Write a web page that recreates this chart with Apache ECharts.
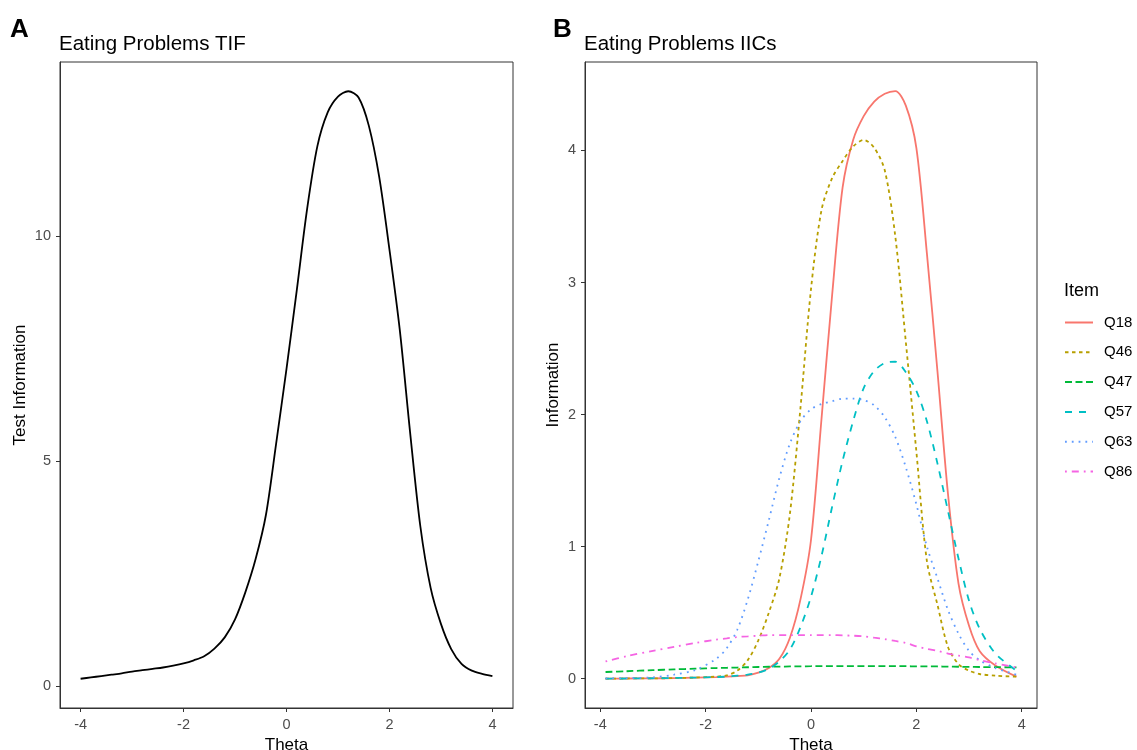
<!DOCTYPE html>
<html>
<head>
<meta charset="utf-8">
<script src="https://cdn.jsdelivr.net/npm/echarts@6/dist/echarts.min.js"></script>
<style>
  html, body { margin: 0; padding: 0; background: #fff; }
  #main { width: 1137px; height: 750px; }
</style>
</head>
<body>
<div id="main"></div>
<script>
var myChart = echarts.init(document.getElementById('main'));

// A: test information function
var tifTheta = [-4.0,-3.8,-3.6,-3.4,-3.2,-3.0,-2.8,-2.6,-2.4,-2.2,-2.0,-1.8,-1.6,-1.4,-1.2,-1.0,-0.8,-0.6,-0.4,-0.2,
                0.0,0.2,0.4,0.6,0.8,1.0,1.2,1.4,1.6,1.8,2.0,2.2,2.4,2.6,2.8,3.0,3.2,3.4,3.6,3.8,4.0];
var tifValues = [0.16,0.19,0.22,0.25,0.28,0.32,0.35,0.38,0.41,0.45,0.50,0.57,0.66,0.83,1.08,1.48,2.08,2.82,3.80,5.40,
                 7.05,8.80,10.60,12.00,12.75,13.10,13.22,13.08,12.45,11.32,9.70,7.92,5.65,3.55,2.18,1.38,0.82,0.49,0.34,0.27,0.22];

// B: item information curves
var itemTheta = [-3.9,-3.5,-3.0,-2.6,-2.2,-1.8,-1.6,-1.4,-1.2,-1.0,-0.8,-0.6,-0.4,-0.2,0.0,0.2,0.4,0.6,0.8,
                 1.0,1.2,1.4,1.6,1.8,2.0,2.2,2.4,2.6,2.8,3.0,3.2,3.5,3.9];
var items = ['Q18','Q46','Q47','Q57','Q63','Q86'];
var q18 = [0.0,0.001,0.002,0.004,0.007,0.011,0.015,0.02,0.025,0.045,0.08,0.15,0.31,0.6,1.05,1.97,2.9,3.72,4.08,
           4.26,4.37,4.43,4.45,4.34,4.02,3.22,2.33,1.4,0.72,0.4,0.21,0.1,0.015];
var q46 = [0.0,0.001,0.002,0.004,0.008,0.015,0.025,0.06,0.14,0.29,0.5,0.76,1.25,2.05,2.95,3.55,3.79,3.92,4.03,
           4.08,4.02,3.85,3.35,2.55,1.72,0.89,0.56,0.24,0.11,0.06,0.035,0.022,0.015];
var q47 = [0.05,0.056,0.064,0.07,0.075,0.08,0.082,0.084,0.086,0.088,0.09,0.091,0.092,0.093,0.094,0.095,0.095,0.095,0.095,
           0.095,0.095,0.095,0.094,0.094,0.093,0.093,0.092,0.091,0.09,0.089,0.088,0.087,0.085];
var q57 = [0.0,0.001,0.003,0.005,0.008,0.012,0.015,0.022,0.03,0.045,0.075,0.13,0.22,0.39,0.62,0.93,1.3,1.65,1.95,
           2.2,2.33,2.39,2.40,2.32,2.18,1.95,1.63,1.27,0.91,0.59,0.38,0.19,0.06];
var q63 = [0.002,0.004,0.01,0.03,0.065,0.15,0.23,0.37,0.6,0.89,1.2,1.52,1.78,1.95,2.04,2.08,2.1,2.12,2.12,
           2.11,2.07,1.98,1.83,1.6,1.32,1.0,0.76,0.52,0.34,0.21,0.14,0.08,0.03];
var q86 = [0.13,0.17,0.21,0.24,0.27,0.295,0.305,0.315,0.32,0.325,0.33,0.33,0.33,0.33,0.33,0.33,0.33,0.328,0.325,
           0.32,0.31,0.3,0.285,0.27,0.245,0.225,0.21,0.19,0.175,0.16,0.14,0.115,0.085];

var thetaTicks = [-4,-2,0,2,4];
var tifTicks = [0,5,10];
var infoTicks = [0,1,2,3,4];

var colors = ['#F8766D','#B79F00','#00BA38','#00BFC4','#619CFF','#F564E3'];
var dashes = ['solid',[3.5,3.5],[7,3.5],[7,7],[1.8,5],[1.8,5,7,5]];
var itemValues = [q18,q46,q47,q57,q63,q86];

var font = "'Liberation Sans', Arial, sans-serif";

function pairs(xs, ys) {
    return xs.map(function (x, i) { return [x, ys[i]]; });
}

function xAxisOf(grid, lo, hi) {
    return {
        gridIndex: grid, type: 'value', min: lo, max: hi,
        axisLine: {show: true, onZero: false, lineStyle: {color: '#333', width: 1}},
        splitLine: {show: false},
        axisTick: {show: true, length: 4, customValues: thetaTicks, lineStyle: {color: '#333'}},
        axisLabel: {customValues: thetaTicks, color: '#4d4d4d', fontSize: 14.5, margin: 9, fontFamily: font},
        name: 'Theta', nameLocation: 'middle', nameGap: 20,
        nameTextStyle: {color: '#000', fontSize: 17, fontFamily: font}
    };
}

function yAxisOf(grid, lo, hi, ticks, title, gap) {
    return {
        gridIndex: grid, type: 'value', min: lo, max: hi,
        axisLine: {show: true, onZero: false, lineStyle: {color: '#333', width: 1}},
        splitLine: {show: false},
        axisTick: {show: true, length: 4, customValues: ticks, lineStyle: {color: '#333'}},
        axisLabel: {customValues: ticks, color: '#4d4d4d', fontSize: 14.5, margin: 9, fontFamily: font},
        name: title, nameLocation: 'middle', nameGap: gap, nameRotate: 90,
        nameTextStyle: {color: '#000', fontSize: 17, fontFamily: font}
    };
}

var series = [{
    name: 'TIF', type: 'line', xAxisIndex: 0, yAxisIndex: 0,
    data: pairs(tifTheta, tifValues), smooth: 0.3, symbol: 'none',
    lineStyle: {color: '#000', width: 1.8}
}];
items.forEach(function (name, i) {
    series.push({
        name: name, type: 'line', xAxisIndex: 1, yAxisIndex: 1,
        data: pairs(itemTheta, itemValues[i]), smooth: 0.3, symbol: 'none',
        itemStyle: {color: colors[i]},
        lineStyle: {color: colors[i], width: 1.8, type: dashes[i]}
    });
});

var option = {
    animation: false,
    backgroundColor: '#fff',
    textStyle: {fontFamily: font},
    title: [
        {text: 'A', left: 10, top: 17, padding: 0, textStyle: {fontSize: 26, fontWeight: 'bold', color: '#000', fontFamily: font}},
        {text: 'Eating Problems TIF', left: 59, top: 34, padding: 0, textStyle: {fontSize: 20.5, fontWeight: 'normal', color: '#000', fontFamily: font}},
        {text: 'B', left: 553, top: 17, padding: 0, textStyle: {fontSize: 26, fontWeight: 'bold', color: '#000', fontFamily: font}},
        {text: 'Eating Problems IICs', left: 584, top: 34, padding: 0, textStyle: {fontSize: 20.5, fontWeight: 'normal', color: '#000', fontFamily: font}},
        {text: 'Item', left: 1064, top: 282, padding: 0, textStyle: {fontSize: 18, fontWeight: 'normal', color: '#000', fontFamily: font}}
    ],
    legend: {
        data: items, orient: 'vertical', left: 1064, top: 315, padding: 0,
        itemWidth: 28, itemHeight: 16, itemGap: 14.8,
        itemStyle: {opacity: 0},
        textStyle: {fontSize: 15, color: '#000', fontFamily: font, padding: [0, 0, 0, 6]}
    },
    grid: [
        {left: 60, top: 62, width: 453, height: 646, outerBoundsMode: 'none', containLabel: false,
         show: true, borderColor: '#333', borderWidth: 1, backgroundColor: 'transparent'},
        {left: 585, top: 62, width: 452, height: 646, outerBoundsMode: 'none', containLabel: false,
         show: true, borderColor: '#333', borderWidth: 1, backgroundColor: 'transparent'}
    ],
    xAxis: [xAxisOf(0, -4.4, 4.4), xAxisOf(1, -4.29, 4.29)],
    yAxis: [yAxisOf(0, -0.49, 13.87, tifTicks, 'Test Information', 31),
            yAxisOf(1, -0.2225, 4.67, infoTicks, 'Information', 23)],
    series: series
};

myChart.setOption(option);
</script>
</body>
</html>
